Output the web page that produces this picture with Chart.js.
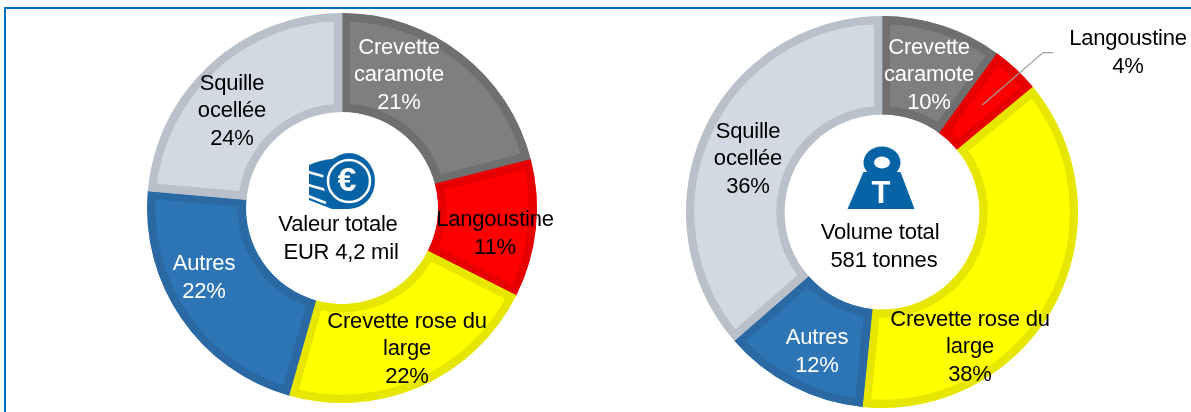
<!DOCTYPE html>
<html lang="fr">
<head>
<meta charset="utf-8">
<title>Valeur et volume par espèce</title>
<script src="https://cdn.jsdelivr.net/npm/chart.js@4/dist/chart.umd.min.js"></script>
<style>
    html, body { margin: 0; padding: 0; background: #fff; }
    #page { position: relative; width: 1191px; height: 412px; overflow: hidden; }
    #frame { position: absolute; left: 4px; top: 7px; right: 0; bottom: 0; border-top: 2px solid #0070c0; border-left: 2px solid #0070c0; }
    .donut { position: absolute; }
    #valueBox { left: 92px; top: 7px; width: 500px; height: 402px; }
    #volumeBox { left: 573px; top: 14px; width: 618px; height: 396px; }
</style>
</head>
<body>
<div id="page">
    <div id="frame"></div>
    <div class="donut" id="valueBox"><canvas id="valueChart"></canvas></div>
    <div class="donut" id="volumeBox"><canvas id="volumeChart"></canvas></div>
</div>
<script>
// Data
const categories = ['Crevette caramote', 'Langoustine', 'Crevette rose du large', 'Autres', 'Squille ocellée'];
const valueShares = [21, 11.4, 22, 22, 23.6];
const volumeShares = [10, 4, 37.6, 12, 36.4];
const valueCentreLines = ['Valeur totale', 'EUR 4,2 mil'];
const volumeCentreLines = ['Volume total', '581 tonnes'];

const fillColors = ['#7f7f7f', '#ff0000', '#ffff00', '#2e75b6', '#d2d9e2'];
const edgeColors = ['#6f6f6f', '#e60000', '#e6e600', '#2a69a4', '#b9c0ca'];
const textColors = ['#ffffff', '#000000', '#000000', '#ffffff', '#000000'];

const FONT = "22px 'Liberation Sans', Arial, sans-serif";
const LINE_HEIGHT = 27.5;
const ICON_BLUE = '#0563a6';

// Wrapped category text, as it is broken in the picture
const labelLines = [
    ['Crevette', 'caramote'],
    ['Langoustine'],
    ['Crevette rose du', 'large'],
    ['Autres'],
    ['Squille', 'ocellée'],
];

// Centre of each label block, in page pixels
const valueSpots = [[399, 75], [495, 234], [407, 349], [204, 278], [232, 111]];
const volumeSpots = [[929, 75], [1128, 53], [970, 347], [817, 352], [748, 159]];

function drawLines(ctx, lines, x, y, color) {
    ctx.fillStyle = color;
    lines.forEach((line, i) => {
        ctx.fillText(line, x, y + (i - (lines.length - 1) / 2) * LINE_HEIGHT);
    });
}

function drawCoins(ctx, cx, cy) {
    ctx.fillStyle = ICON_BLUE;
    // stack behind the coin
    ctx.beginPath();
    ctx.moveTo(309, 165);
    ctx.quadraticCurveTo(318, 160, 340, 158);
    ctx.lineTo(350, 209);
    ctx.lineTo(332, 209);
    ctx.lineTo(309, 200);
    ctx.closePath();
    ctx.fill();
    ctx.strokeStyle = '#ffffff';
    ctx.lineWidth = 2.5;
    [[172, 177], [185, 190], [196, 203]].forEach(([y1, y2]) => {
        ctx.beginPath();
        ctx.moveTo(308, y1);
        ctx.lineTo(326, y2);
        ctx.stroke();
    });
    // coin
    ctx.beginPath();
    ctx.ellipse(cx, cy, 26, 28, 0, 0, Math.PI * 2);
    ctx.fill();
    ctx.lineWidth = 2.5;
    ctx.beginPath();
    ctx.arc(cx, cy, 21, 0, Math.PI * 2);
    ctx.stroke();
    ctx.fillStyle = '#ffffff';
    ctx.font = "bold 34px 'Liberation Sans', Arial, sans-serif";
    ctx.fillText('€', cx - 2, cy + 1);
}

function drawWeight(ctx) {
    ctx.fillStyle = ICON_BLUE;
    ctx.beginPath();
    ctx.ellipse(882, 162.5, 18.5, 16, 0, 0, Math.PI * 2);
    ctx.fill();
    ctx.beginPath();
    ctx.moveTo(863.5, 172);
    ctx.lineTo(900.5, 172);
    ctx.lineTo(914.5, 209);
    ctx.lineTo(847.5, 209);
    ctx.closePath();
    ctx.fill();
    ctx.fillStyle = '#ffffff';
    ctx.beginPath();
    ctx.ellipse(882, 162.5, 8, 6, 0, 0, Math.PI * 2);
    ctx.fill();
    ctx.font = "bold 31px 'Liberation Sans', Arial, sans-serif";
    ctx.fillText('T', 881, 194);
}

// Labels, centre text and icon are drawn on top of the arcs
function labelPlugin(spots, centreLines, centreSpot, drawIcon, leaderIndex) {
    return {
        id: 'donutLabels',
        afterDatasetsDraw: (chart) => {
            const ctx = chart.ctx;
            const box = chart.canvas.parentNode;
            const shiftX = box.offsetLeft;
            const shiftY = box.offsetTop;
            const shares = chart.data.datasets[0].data;
            const arcs = chart.getDatasetMeta(0).data;

            ctx.save();
            ctx.translate(-shiftX, -shiftY);
            ctx.textAlign = 'center';
            ctx.textBaseline = 'middle';

            if (leaderIndex >= 0) {
                const from = arcs[leaderIndex].tooltipPosition();
                ctx.strokeStyle = '#a0a0a0';
                ctx.lineWidth = 1.25;
                ctx.beginPath();
                ctx.moveTo(from.x + shiftX, from.y + shiftY);
                ctx.lineTo(1043, 52.5);
                ctx.lineTo(1053, 52.5);
                ctx.stroke();
            }

            ctx.save();
            drawIcon(ctx);
            ctx.restore();

            ctx.font = FONT;
            ctx.letterSpacing = '-0.2px';
            shares.forEach((share, i) => {
                const lines = [...labelLines[i], `${Math.round(share)}%`];
                drawLines(ctx, lines, spots[i][0], spots[i][1], textColors[i]);
            });
            centreLines.forEach((line, i) => {
                drawLines(ctx, [line], centreSpot[i][0], centreSpot[i][1], '#000000');
            });
            ctx.restore();
        },
    };
}

function makeDonut(canvasId, shares, radius, cutout, plugin) {
    return new Chart(document.getElementById(canvasId), {
        type: 'doughnut',
        data: {
            labels: categories,
            datasets: [
                {
                    data: shares,
                    backgroundColor: fillColors,
                    borderColor: edgeColors,
                    borderWidth: 8,
                    borderAlign: 'inner',
                    borderJoinStyle: 'miter',
                },
            ],
        },
        options: {
            responsive: true,
            maintainAspectRatio: false,
            animation: false,
            radius: radius,
            cutout: cutout,
            plugins: {
                legend: { display: false },
                tooltip: { enabled: false },
            },
        },
        plugins: [plugin],
    });
}

makeDonut('valueChart', valueShares, 195, '49.2%',
    labelPlugin(valueSpots, valueCentreLines, [[338, 225], [341, 253]], (ctx) => drawCoins(ctx, 349, 181), -1));
makeDonut('volumeChart', volumeShares, 196, '49.7%',
    labelPlugin(volumeSpots, volumeCentreLines, [[880, 233], [884, 261]], drawWeight, 1));
</script>
</body>
</html>
